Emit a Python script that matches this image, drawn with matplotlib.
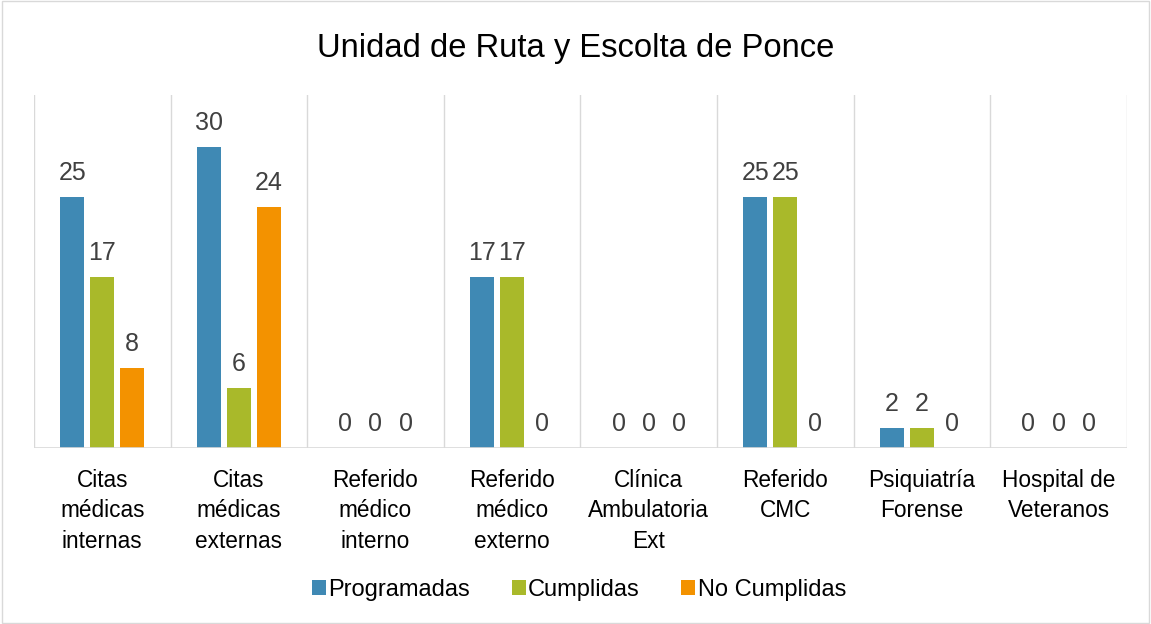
import numpy as np
import matplotlib.pyplot as plt
from matplotlib.patches import Rectangle

plt.rcParams['font.family'] = ['Liberation Sans', 'DejaVu Sans']

categories = ["Citas\nmédicas\ninternas", "Citas\nmédicas\nexternas", "Referido\nmédico\ninterno",
              "Referido\nmédico\nexterno", "Clínica\nAmbulatoria\nExt", "Referido\nCMC",
              "Psiquiatría\nForense", "Hospital de\nVeteranos"]
programadas = [25, 30, 0, 17, 0, 25, 2, 0]
cumplidas = [17, 6, 0, 17, 0, 25, 2, 0]
no_cumplidas = [8, 24, 0, 0, 0, 0, 0, 0]

series = [("Programadas", programadas, "#3F89B4"),
          ("Cumplidas", cumplidas, "#A9B92A"),
          ("No Cumplidas", no_cumplidas, "#F39200")]

fig = plt.figure(figsize=(11.51, 6.24), dpi=100)
ax = fig.add_axes([0.0295, 0.282, 0.9495, 0.566])

x = np.arange(len(categories))
w = 0.176
step = 0.22
for i, (name, vals, col) in enumerate(series):
    pos = x + (i - 1) * step
    ax.bar(pos, vals, width=w, color=col, label=name)
    for p, v in zip(pos, vals):
        ax.text(p, v + 1.2, str(v), ha='center', va='bottom', fontsize=18, color='#404040')

ax.set_xlim(-0.5, len(categories) - 0.5)
ax.set_ylim(0, 35.2)
for b in np.arange(-0.5, len(categories), 1.0):
    ax.axvline(b, color='#D9D9D9', lw=1, zorder=0)
for s in ax.spines.values():
    s.set_visible(False)
ax.axhline(0, color='#D9D9D9', lw=1.2)
ax.set_yticks([])
ax.set_xticks(x)
ax.set_xticklabels(categories, fontsize=16.3, color='#000000', linespacing=1.42)
ax.tick_params(axis='x', length=0, pad=15)

fig.suptitle("Unidad de Ruta y Escolta de Ponce", fontsize=23.6, y=0.947, color='#000000')
fig.legend(loc='center', bbox_to_anchor=(0.503, 0.054), ncol=3, frameon=False, fontsize=17,
           handlelength=0.6, handleheight=0.6, handletextpad=0.1, columnspacing=1.75)

fig.patches.append(Rectangle((0.002, 0.002), 0.996, 0.996, transform=fig.transFigure,
                             fill=False, edgecolor='#D9D9D9', lw=1))

fig.savefig("out.png", dpi=100)
